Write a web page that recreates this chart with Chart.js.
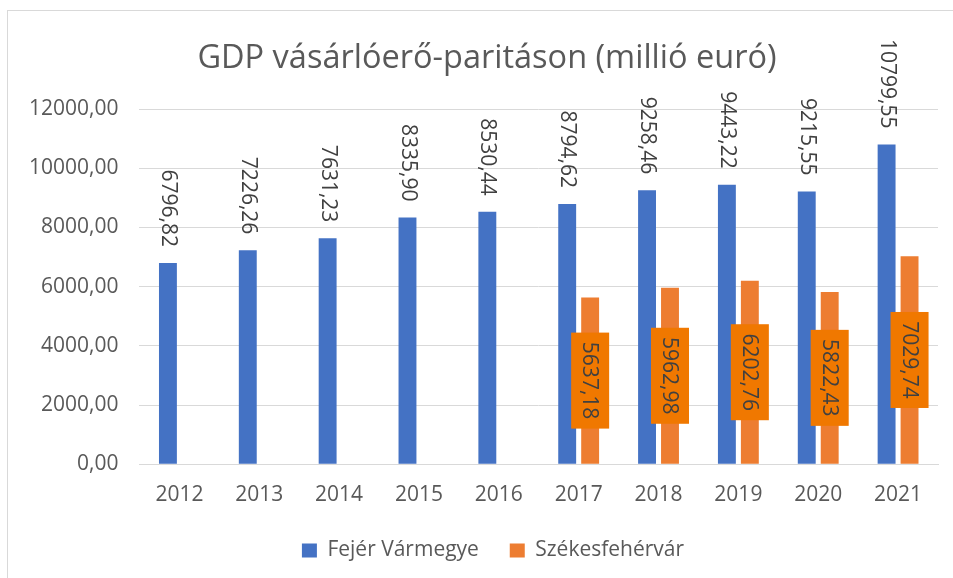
<!DOCTYPE html>
<html>
<head>
<meta charset="utf-8">
<script src="https://cdn.jsdelivr.net/npm/chart.js@4/dist/chart.umd.min.js"></script>
<style>
  html, body { margin: 0; padding: 0; background: #fff; }
  #wrap { width: 953px; height: 578px; position: relative; }
</style>
</head>
<body>
<div id="wrap"><canvas id="gdpChart"></canvas></div>
<script>
const years = ['2012', '2013', '2014', '2015', '2016', '2017', '2018', '2019', '2020', '2021'];
const fejerValues = [6796.82, 7226.26, 7631.23, 8335.90, 8530.44, 8794.62, 9258.46, 9443.22, 9215.55, 10799.55];
const fehervarValues = [null, null, null, null, null, 5637.18, 5962.98, 6202.76, 5822.43, 7029.74];
const yTicks = [0, 2000, 4000, 6000, 8000, 10000, 12000];

const fmt = v => v.toFixed(2).replace('.', ',');

// keret a diagram körül
const framePlugin = {
  id: 'frame',
  beforeDraw(chart) {
    const ctx = chart.ctx;
    ctx.save();
    ctx.fillStyle = '#fff';
    ctx.fillRect(0, 0, chart.width, chart.height);
    ctx.strokeStyle = '#d9d9d9';
    ctx.lineWidth = 1;
    ctx.strokeRect(7.5, 10.5, chart.width + 20, chart.height + 20);
    ctx.restore();
  }
};

// cím és jelmagyarázat kicsit jobbra, mint az eredetin
const shiftPlugin = {
  id: 'shiftBlocks',
  afterLayout(chart) {
    if (chart.titleBlock) chart.titleBlock.left += 28;
    if (chart.legend) chart.legend.left += 40;
  }
};

// elforgatott adatcímkék
const labelPlugin = {
  id: 'rotLabels',
  afterDatasetsDraw(chart) {
    const ctx = chart.ctx;
    ctx.save();
    ctx.font = '21px "Open Sans"';
    chart.data.datasets.forEach((ds, i) => {
      chart.getDatasetMeta(i).data.forEach((bar, j) => {
        const v = ds.data[j];
        if (v == null) return;
        const txt = fmt(v);
        ctx.save();
        if (i === 0) {
          ctx.translate(bar.x, bar.y - 16);
          ctx.rotate(Math.PI / 2);
          ctx.textAlign = 'right';
          ctx.textBaseline = 'middle';
          ctx.fillStyle = '#404040';
          ctx.fillText(txt, 0, 0);
        } else {
          const cy = (bar.y + bar.base) / 2;
          ctx.fillStyle = '#f07800';
          ctx.fillRect(bar.x - 19, cy - 48, 38, 96);
          ctx.translate(bar.x, cy);
          ctx.rotate(Math.PI / 2);
          ctx.textAlign = 'center';
          ctx.textBaseline = 'middle';
          ctx.fillStyle = '#404040';
          ctx.fillText(txt, 0, 1);
        }
        ctx.restore();
      });
    });
    ctx.restore();
  }
};

const ctxGdp = document.getElementById('gdpChart').getContext('2d');
const gdpChart = new Chart(ctxGdp, {
  type: 'bar',
  data: {
    labels: years,
    datasets: [{
      label: 'Fejér Vármegye',
      data: fejerValues,
      backgroundColor: '#4472c4',
      categoryPercentage: 0.575,
      barPercentage: 0.78
    }, {
      label: 'Székesfehérvár',
      data: fehervarValues,
      backgroundColor: '#ed7d31',
      categoryPercentage: 0.575,
      barPercentage: 0.78
    }]
  },
  options: {
    responsive: true,
    maintainAspectRatio: false,
    animation: false,
    layout: { padding: { left: 8, right: 15, top: 0, bottom: 7 } },
    plugins: {
      title: {
        display: true,
        text: 'GDP vásárlóerő-paritáson (millió euró)',
        color: '#595959',
        font: { family: 'Open Sans', size: 32.5, weight: 'normal' },
        padding: { top: 39, bottom: 31 }
      },
      legend: {
        position: 'bottom',
        labels: {
          color: '#595959',
          font: { family: 'Open Sans', size: 21 },
          boxWidth: 15,
          boxHeight: 14,
          padding: 14.5,
          // kis szóköz az első elem után, hogy a távolság hasonló legyen
          generateLabels: ch => {
            const items = Chart.defaults.plugins.legend.labels.generateLabels(ch);
            items[0].text += '   ';
            return items;
          }
        }
      },
      tooltip: { enabled: false }
    },
    scales: {
      x: {
        grid: { display: false, drawTicks: false },
        border: { color: '#d9d9d9' },
        ticks: { color: '#595959', font: { family: 'Open Sans', size: 21 }, padding: 18 }
      },
      y: {
        min: 0,
        max: 12000,
        afterBuildTicks: axis => { axis.ticks = yTicks.map(v => ({ value: v })); },
        grid: { color: '#d9d9d9', drawTicks: false },
        border: { display: false },
        ticks: {
          color: '#595959',
          font: { family: 'Open Sans', size: 21 },
          padding: 21,
          callback: v => fmt(v)
        }
      }
    }
  },
  plugins: [framePlugin, shiftPlugin, labelPlugin]
});
</script>
</body>
</html>
